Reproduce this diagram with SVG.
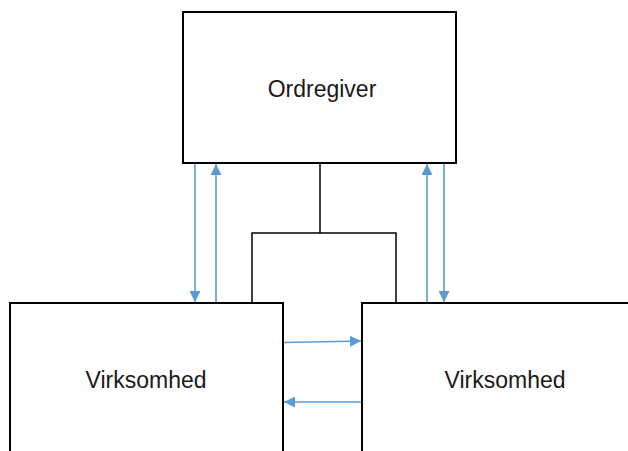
<svg xmlns="http://www.w3.org/2000/svg" width="628" height="451" viewBox="0 0 628 451">
  <defs>
    <marker id="arrow" viewBox="0 0 10 10" refX="10" refY="5" markerWidth="11" markerHeight="11" markerUnits="userSpaceOnUse" orient="auto">
      <path d="M0,0 L10,5 L0,10 Z" fill="#5B9BD5"/>
    </marker>
    <style>
      .box { fill: #ffffff; stroke: #000000; stroke-width: 2; }
      .label { font-family: "Liberation Sans", Arial, sans-serif; font-size: 23px; fill: #1a1a1a; text-anchor: middle; }
      .tree { fill: none; stroke: #000000; stroke-width: 1.5; }
      .flow { fill: none; stroke: #5B9BD5; stroke-width: 1.6; marker-end: url(#arrow); }
    </style>
  </defs>
  <rect width="628" height="451" fill="#ffffff"/>

  <g id="connectors">
    <!-- organisational tree line -->
    <path class="tree" d="M320,163 V233 M252,303 V233 H396 V303"/>
    <!-- vertical flows between client and companies -->
    <line class="flow" x1="195" y1="164" x2="195" y2="302"/>
    <line class="flow" x1="216" y1="302" x2="216" y2="164"/>
    <line class="flow" x1="427" y1="302" x2="427" y2="164"/>
    <line class="flow" x1="444" y1="164" x2="444" y2="302"/>
    <!-- horizontal flows between companies -->
    <line class="flow" x1="284" y1="342.5" x2="361" y2="341"/>
    <line class="flow" x1="361" y1="402" x2="284" y2="402"/>
  </g>

  <g id="ordregiver">
    <rect class="box" x="183" y="12" width="273" height="151"/>
    <text class="label" x="322" y="97">Ordregiver</text>
  </g>

  <g id="virksomhed-left">
    <rect class="box" x="10" y="303" width="273" height="160"/>
    <text class="label" x="146" y="388">Virksomhed</text>
  </g>

  <g id="virksomhed-right">
    <rect class="box" x="362" y="303" width="290" height="160"/>
    <text class="label" x="505" y="388">Virksomhed</text>
  </g>
</svg>
